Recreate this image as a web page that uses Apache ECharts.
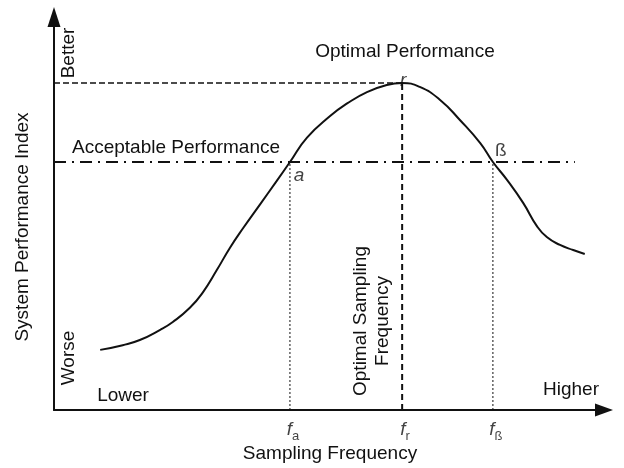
<!DOCTYPE html>
<html>
<head>
<meta charset="utf-8">
<script src="https://cdn.jsdelivr.net/npm/echarts@6/dist/echarts.min.js"></script>
<style>html,body{margin:0;padding:0;background:#fff}#c{width:624px;height:468px}</style>
</head>
<body>
<div id="c"></div>
<script>
// Conceptual performance curve (both axes in 0..100 arbitrary units)
const curveX = [8.4, 12.5, 15.6, 19.3, 21.6, 24.7, 27.1, 29.6, 32.0, 34.4, 37.5, 40.5, 42.9, 46.0, 50.2, 53.3, 56.9, 60.5, 63.3, 66.5, 70.2, 73.8, 77.5, 79.8, 82.4, 85.3, 87.8, 89.6, 92.0, 94.4, 96.5];
const curveY = [15.3, 16.5, 17.8, 20.4, 22.4, 26.0, 30.0, 35.6, 41.3, 46.3, 52.4, 58.3, 63.1, 69.3, 74.8, 78.0, 80.9, 82.7, 83.2, 82.2, 78.9, 73.8, 67.9, 63.1, 58.5, 52.7, 46.8, 44.0, 42.0, 40.7, 39.7];
const keyFreqs = [42.9, 63.3, 79.8];          // f_a, f_r, f_ß
const keyFreqSubs = ['a', 'r', 'ß'];
const optimalLevel = 83.2;
const acceptableLevel = 63.1;
const acceptableEnd = 94.7;
const pointLabels = ['a', 'r', 'ß'];
const axisMax = 100;

const FONT = '"Liberation Sans", Arial, sans-serif';
const INK = '#111';

const curveData = curveX.map((x, i) => [x, curveY[i]]);
const txt = (text, x, y, extra) => Object.assign({
  type: 'text', x: x, y: y,
  style: Object.assign({text: text, font: '19px ' + FONT, fill: INK, align: 'center', verticalAlign: 'middle'}, extra && extra.style || {})
}, extra && extra.el || {});

const chart = echarts.init(document.getElementById('c'));
const axisCommon = {
  type: 'value', min: 0, max: axisMax,
  axisLine: {show: true, lineStyle: {color: INK, width: 2}, symbol: ['none', 'triangle']},
  axisTick: {show: false}, axisLabel: {show: false}, splitLine: {show: false}
};
chart.setOption({
  animation: false,
  grid: {left: 54, right: 20, top: 17, bottom: 58},
  xAxis: Object.assign({}, axisCommon, {axisLine: Object.assign({}, axisCommon.axisLine, {symbolSize: [13, 18]})}),
  yAxis: Object.assign({}, axisCommon, {axisLine: Object.assign({}, axisCommon.axisLine, {symbolSize: [13, 20]})}),
  series: [
    {type: 'line', data: [[0, optimalLevel], [keyFreqs[1], optimalLevel]], symbol: 'none',
     lineStyle: {color: INK, width: 1.5, type: [6, 3]}},
    {type: 'line', data: [[0, acceptableLevel], [acceptableEnd, acceptableLevel]], symbol: 'none',
     lineStyle: {color: INK, width: 2, type: [12, 6, 2, 6]}},
    {type: 'line', data: [[keyFreqs[0], 0], [keyFreqs[0], acceptableLevel]], symbol: 'none',
     lineStyle: {color: INK, width: 1, type: [2, 2]}},
    {type: 'line', data: [[keyFreqs[1], 0], [keyFreqs[1], optimalLevel]], symbol: 'none',
     lineStyle: {color: INK, width: 2, type: [6, 4]}},
    {type: 'line', data: [[keyFreqs[2], 0], [keyFreqs[2], acceptableLevel]], symbol: 'none',
     lineStyle: {color: INK, width: 1, type: [2, 2]}},
    {type: 'line', data: curveData, symbol: 'none', smooth: 0.5,
     lineStyle: {color: INK, width: 2}},
    // point labels a, r, ß
    {type: 'scatter', symbolSize: 1, itemStyle: {color: 'rgba(0,0,0,0)'},
     data: [
       {value: [keyFreqs[0], acceptableLevel], label: {formatter: pointLabels[0], offset: [9, 14]}},
       {value: [keyFreqs[1], optimalLevel], label: {formatter: pointLabels[1], offset: [1, -2]}},
       {value: [keyFreqs[2], acceptableLevel], label: {formatter: pointLabels[2], offset: [8, -11], fontStyle: 'normal'}}
     ],
     label: {show: true, position: 'inside', color: INK, fontSize: 19, fontStyle: 'italic', fontFamily: FONT}},
    // frequency tick labels f_a, f_r, f_ß
    {type: 'scatter', symbolSize: 1, itemStyle: {color: 'rgba(0,0,0,0)'},
     data: keyFreqs.map((f, i) => ({value: [f, 0], label: {formatter: '{f|f}{s|' + keyFreqSubs[i] + '}'}})),
     label: {show: true, position: 'inside', offset: [3, 20], color: INK,
       rich: {
         f: {fontSize: 19, fontStyle: 'italic', fontFamily: FONT, color: INK},
         s: {fontSize: 13, fontFamily: FONT, color: INK, padding: [12, 0, 0, 0]}
       }}}
  ],
  graphic: [
    txt('System Performance Index', 23, 227, {el: {rotation: Math.PI / 2}}),
    txt('Better', 69, 53, {el: {rotation: Math.PI / 2}}),
    txt('Worse', 69, 358, {el: {rotation: Math.PI / 2}}),
    txt('Lower', 123, 396),
    txt('Higher', 571, 390),
    txt('Sampling Frequency', 330, 454),
    txt('Optimal Performance', 405, 52),
    txt('Acceptable Performance', 72, 148, {style: {align: 'left'}}),
    txt('Optimal Sampling\nFrequency', 372, 321, {el: {rotation: Math.PI / 2}, style: {lineHeight: 22}})
  ]
});
</script>
</body>
</html>
